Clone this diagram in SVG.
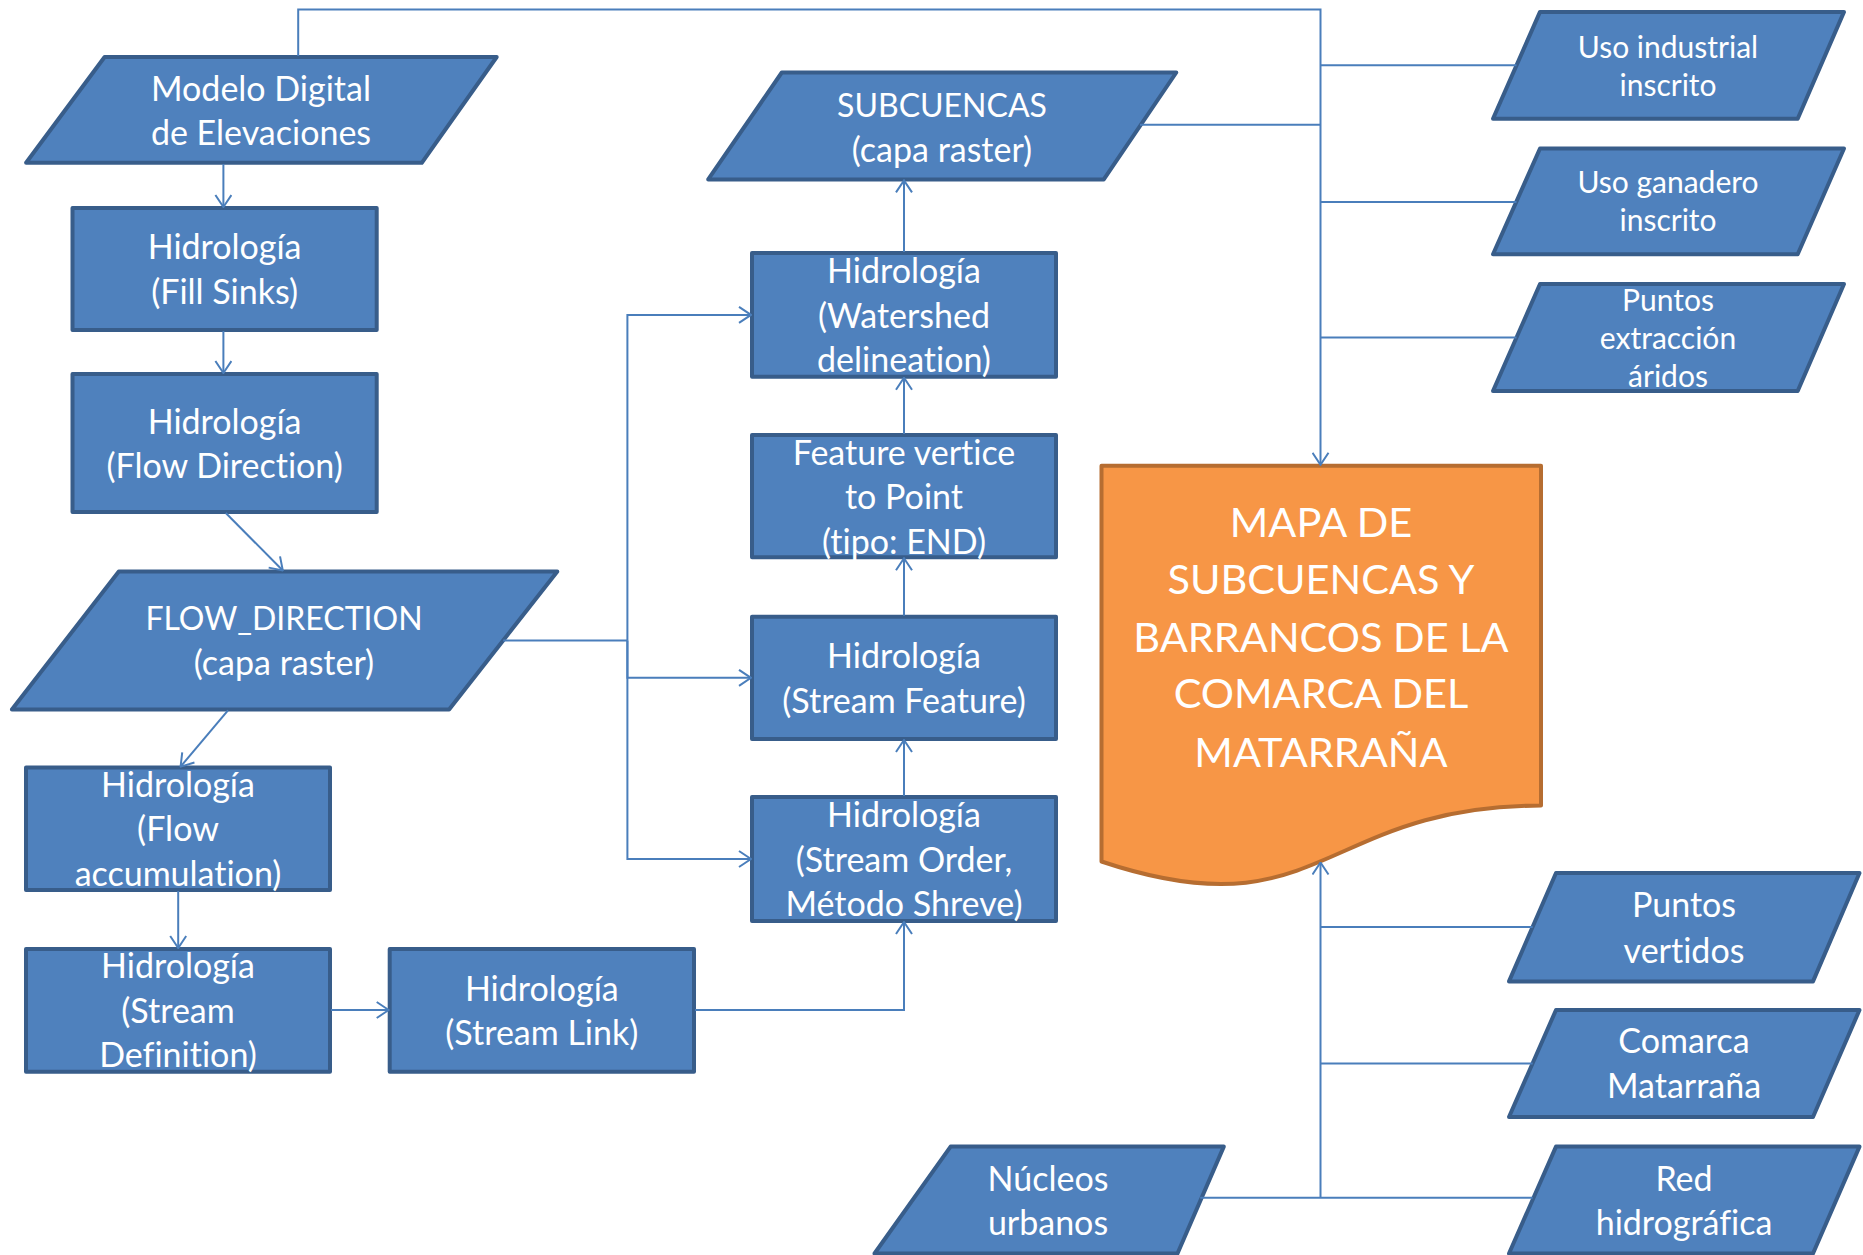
<svg xmlns="http://www.w3.org/2000/svg" width="1863" height="1255" viewBox="0 0 1863 1255">
<defs>
<marker id="arr" viewBox="0 0 14 18" refX="13" refY="9" markerWidth="14" markerHeight="18" markerUnits="userSpaceOnUse" orient="auto">
<path d="M1,1 L13,9 L1,17" fill="none" stroke="#4A7EBB" stroke-width="2"/>
</marker>
<style>
.n{fill:#4F81BD;stroke:#385D8A;stroke-width:4;stroke-linejoin:round}
.o{fill:#F79646;stroke:#B66D31;stroke-width:4;stroke-linejoin:round}
.t{fill:#fff;font-family:Lato,"Liberation Sans",sans-serif;font-size:34px;text-anchor:middle;font-variant-ligatures:none}
.s{font-size:30px}
.k{font-size:32px}
.b{font-size:41.5px}
.c{fill:none;stroke:#4A7EBB;stroke-width:2}
.a{marker-end:url(#arr)}
</style>
</defs>
<rect width="1863" height="1255" fill="#fff"/>
<g id="modelo"><path class="n" d="M104.6,57 H496.7 L421.8,162.8 H26.1 Z"/><text class="t" x="261" y="101">Modelo Digital</text><text class="t" x="261" y="145">de Elevaciones</text></g>
<g id="fillsinks"><rect class="n" x="72.5" y="208" width="304.2" height="122"/><text class="t" x="224.6" y="259">Hidrología</text><text class="t" x="224.6" y="304">(Fill Sinks)</text></g>
<g id="flowdir"><rect class="n" x="72.5" y="374" width="304.2" height="138"/><text class="t" x="224.6" y="434">Hidrología</text><text class="t" x="224.6" y="478">(Flow Direction)</text></g>
<g id="flowdirraster"><path class="n" d="M118.8,571.5 H557.3 L449.1,709.4 H11.9 Z"/><text class="t k" x="284" y="630">FLOW_DIRECTION</text><text class="t" x="284" y="675">(capa raster)</text></g>
<g id="flowacc"><rect class="n" x="26" y="767.6" width="304" height="122.4"/><text class="t" x="178" y="797">Hidrología</text><text class="t" x="178" y="841">(Flow</text><text class="t" x="178" y="886">accumulation)</text></g>
<g id="streamdef"><rect class="n" x="26" y="949" width="304" height="122.7"/><text class="t" x="178" y="978">Hidrología</text><text class="t" x="178" y="1023">(Stream</text><text class="t" x="178" y="1067">Definition)</text></g>
<g id="streamlink"><rect class="n" x="389.7" y="949" width="304.3" height="122.7"/><text class="t" x="541.8" y="1001">Hidrología</text><text class="t" x="541.8" y="1045">(Stream Link)</text></g>
<g id="streamorder"><rect class="n" x="752" y="797" width="304" height="124"/><text class="t" x="904" y="827">Hidrología</text><text class="t" x="904" y="872">(Stream Order,</text><text class="t" x="904" y="916">Método Shreve)</text></g>
<g id="streamfeature"><rect class="n" x="752" y="616.7" width="304" height="122.3"/><text class="t" x="904" y="668">Hidrología</text><text class="t" x="904" y="713">(Stream Feature)</text></g>
<g id="featurevertice"><rect class="n" x="752" y="434.9" width="304" height="122.4"/><text class="t" x="904" y="465">Feature vertice</text><text class="t" x="904" y="509">to Point</text><text class="t" x="904" y="554">(tipo: END)</text></g>
<g id="watershed"><rect class="n" x="752" y="253" width="304" height="123.7"/><text class="t" x="904" y="283">Hidrología</text><text class="t" x="904" y="328">(Watershed</text><text class="t" x="904" y="372">delineation)</text></g>
<g id="subcuencas"><path class="n" d="M781.8,72.5 H1176.3 L1103.8,179.4 H708.2 Z"/><text class="t k" x="942" y="117">SUBCUENCAS</text><text class="t" x="942" y="162">(capa raster)</text></g>
<g id="mapa"><path class="o" d="M1101.5,465.8 H1541 V805.6 C1321.2,805.6 1321.2,935.1 1101.5,861.5 Z"/><text class="t b" x="1321" y="537">MAPA DE</text><text class="t b" x="1321" y="594">SUBCUENCAS Y</text><text class="t b" x="1321" y="652">BARRANCOS DE LA</text><text class="t b" x="1321" y="708">COMARCA DEL</text><text class="t b" x="1321" y="767">MATARRAÑA</text></g>
<g id="usoindustrial"><path class="n" d="M1540,11.9 H1844 L1797.7,118.8 H1493 Z"/><text class="t s" x="1668" y="57.5">Uso industrial</text><text class="t s" x="1668" y="95.5">inscrito</text></g>
<g id="usoganadero"><path class="n" d="M1540,148.5 H1844 L1797.7,254.3 H1493 Z"/><text class="t s" x="1668" y="193">Uso ganadero</text><text class="t s" x="1668" y="231">inscrito</text></g>
<g id="puntosextraccion"><path class="n" d="M1540,284 H1844 L1797.7,391 H1493 Z"/><text class="t s" x="1668" y="310.6">Puntos</text><text class="t s" x="1668" y="348.6">extracción</text><text class="t s" x="1668" y="386.7">áridos</text></g>
<g id="puntosvertidos"><path class="n" d="M1556,873 H1859.5 L1813,981.4 H1509 Z"/><text class="t" x="1684" y="917">Puntos</text><text class="t" x="1684" y="963">vertidos</text></g>
<g id="comarca"><path class="n" d="M1556,1010 H1859.5 L1813,1117 H1509 Z"/><text class="t" x="1684" y="1053">Comarca</text><text class="t" x="1684" y="1098">Matarraña</text></g>
<g id="red"><path class="n" d="M1556,1146.6 H1859.5 L1813,1253.5 H1509 Z"/><text class="t" x="1684" y="1191">Red</text><text class="t" x="1684" y="1235">hidrográfica</text></g>
<g id="nucleos"><path class="n" d="M950.6,1146.6 H1223.8 L1177.5,1253.5 H874.5 Z"/><text class="t" x="1048" y="1191">Núcleos</text><text class="t" x="1048" y="1235">urbanos</text></g>
<g id="connectors">
<path class="c a" d="M223.4,164 V207"/>
<path class="c a" d="M223.4,331 V373"/>
<path class="c a" d="M225.8,513 L282.8,570.5"/>
<path class="c a" d="M228,710.4 L180.6,766.6"/>
<path class="c a" d="M178.2,891 V948"/>
<path class="c a" d="M331,1010 H388.7"/>
<path class="c a" d="M695,1010 H904 V922"/>
<path class="c a" d="M904,796 V740"/>
<path class="c a" d="M904,615.7 V558.3"/>
<path class="c a" d="M904,433.9 V377.7"/>
<path class="c a" d="M904,252 V180.4"/>
<path class="c" d="M503.2,640.5 H627.4"/>
<path class="c a" d="M627.4,640.5 V314.9 H751"/>
<path class="c a" d="M627.4,640.5 V677.8 H751"/>
<path class="c a" d="M627.4,640.5 V859 H751"/>
<path class="c a" d="M298.2,56 V9.5 H1320.5 V464.8"/>
<path class="c" d="M1140,124.8 H1320.5"/>
<path class="c" d="M1320.5,65.3 H1516.5"/>
<path class="c" d="M1320.5,202 H1516.5"/>
<path class="c" d="M1320.5,337.5 H1516.5"/>
<path class="c a" d="M1320.5,1197.7 V862.5"/>
<path class="c" d="M1200.2,1197.7 H1532.7"/>
<path class="c" d="M1320.5,927 H1532.7"/>
<path class="c" d="M1320.5,1063.5 H1532.7"/>
</g>
</svg>
